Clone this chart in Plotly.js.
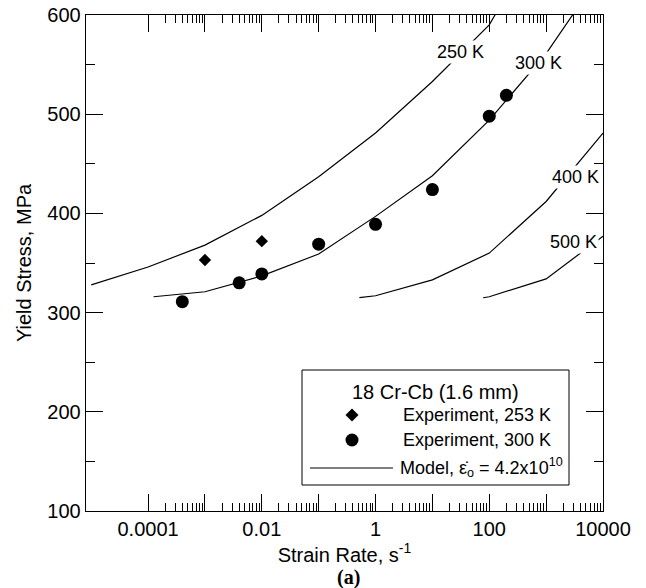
<!DOCTYPE html>
<html>
<head>
<meta charset="utf-8">
<script src="https://cdn.plot.ly/plotly-3.0.1.min.js"></script>
<style>html,body{margin:0;padding:0;background:#fff;}#chart{width:646px;height:588px;}</style>
</head>
<body>
<div id="chart"></div>
<script>
// ---- data ----
const rate250 = [1e-5, 1e-4, 1e-3, 1e-2, 1e-1, 1, 10, 100, 1000];
const stress250 = [328, 346, 368, 398, 437, 481, 533, 590, 690];

const rate300 = [1.25e-4, 1e-3, 1e-2, 1e-1, 1, 10, 100, 1000, 1e4];
const stress300 = [316, 321, 337, 359, 397, 438, 494, 561, 645];

const rate400 = [0.52, 1, 10, 100, 1000, 1e4];
const stress400 = [315, 317, 333, 360, 412, 481];

const rate500 = [78, 100, 1000, 1e4];
const stress500 = [315, 316, 334, 377];

const expRate253 = [1e-3, 1e-2];
const expStress253 = [353, 372];

const expRate300 = [4e-4, 4e-3, 1e-2, 1e-1, 1, 10, 100, 200];
const expStress300 = [311, 330, 339, 369, 389, 424, 498, 519];

const curveLabels = ['250 K', '300 K', '400 K', '500 K'];
const legendTitle = '18 Cr-Cb (1.6 mm)';
const legendItems = ['Experiment, 253 K', 'Experiment, 300 K', 'Model, ε\u0307<sub>o</sub> = 4.2x10<sup>10</sup>'];
const xTickVals = [1e-4, 1e-3, 1e-2, 1e-1, 1, 10, 100, 1000, 1e4];
const xTickText = ['0.0001', '', '0.01', '', '1', '', '100', '', '10000'];

// ---- layout helpers (pixel -> paper) ----
const L = 86, R = 603, T = 15, B = 511;
const px = x => (x - L) / (R - L);
const py = y => (B - y) / (B - T);

const minorX = [];
for (let e = -4; e < 4; e++) for (let d = 2; d <= 9; d++) minorX.push(d * Math.pow(10, e));

const lineStyle = {color: '#000', width: 1.2};
const traces = [
  {x: rate250, y: stress250, mode: 'lines', line: lineStyle, name: 'Model 250 K'},
  {x: rate300, y: stress300, mode: 'lines', line: lineStyle, name: 'Model 300 K'},
  {x: rate400, y: stress400, mode: 'lines', line: lineStyle, name: 'Model 400 K'},
  {x: rate500, y: stress500, mode: 'lines', line: lineStyle, name: 'Model 500 K'},
  {x: expRate253, y: expStress253, mode: 'markers', name: 'Experiment, 253 K',
   marker: {symbol: 'diamond', size: 9.5, color: '#000'}},
  {x: expRate300, y: expStress300, mode: 'markers', name: 'Experiment, 300 K',
   marker: {symbol: 'circle', size: 13, color: '#000'}}
];

const fontMain = 'Liberation Sans, Arial, sans-serif';

const labelPos = [[460, 52], [538, 63], [575, 177], [573, 242]];
const annotations = curveLabels.map((t, i) => ({
  text: t, xref: 'paper', yref: 'paper', x: px(labelPos[i][0]), y: py(labelPos[i][1]),
  xanchor: 'center', yanchor: 'middle', showarrow: false, bgcolor: '#fff', borderpad: 1,
  font: {family: fontMain, size: 18, color: '#000'}
}));
annotations.push(
  {text: legendTitle, xref: 'paper', yref: 'paper', x: px(435), y: py(392), xanchor: 'center', yanchor: 'middle',
   showarrow: false, font: {family: fontMain, size: 20, color: '#000'}},
  {text: legendItems[0], xref: 'paper', yref: 'paper', x: px(401), y: py(415), xanchor: 'left', yanchor: 'middle',
   showarrow: false, font: {family: fontMain, size: 18, color: '#000'}},
  {text: legendItems[1], xref: 'paper', yref: 'paper', x: px(401), y: py(440), xanchor: 'left', yanchor: 'middle',
   showarrow: false, font: {family: fontMain, size: 18, color: '#000'}},
  {text: legendItems[2], xref: 'paper', yref: 'paper', x: px(398), y: py(467), xanchor: 'left', yanchor: 'middle',
   showarrow: false, font: {family: fontMain, size: 18, color: '#000'}},
  {text: '<b>(a)</b>', xref: 'paper', yref: 'paper', x: px(348), y: py(577), xanchor: 'center', yanchor: 'middle',
   showarrow: false, font: {family: 'Liberation Serif, Times New Roman, serif', size: 20, color: '#000'}}
);

const dcx = 352, dcy = 415, dh = 6.5;
const shapes = [
  {type: 'rect', xref: 'paper', yref: 'paper', x0: px(302), x1: px(569), y0: py(485), y1: py(370),
   line: {color: '#000', width: 1}},
  {type: 'line', xref: 'paper', yref: 'paper', x0: px(310), x1: px(393), y0: py(468), y1: py(468),
   line: {color: '#000', width: 1.2}},
  {type: 'path', xref: 'paper', yref: 'paper',
   path: `M ${px(dcx)},${py(dcy - dh)} L ${px(dcx + dh)},${py(dcy)} L ${px(dcx)},${py(dcy + dh)} L ${px(dcx - dh)},${py(dcy)} Z`,
   fillcolor: '#000', line: {color: '#000', width: 0}},
  {type: 'circle', xref: 'paper', yref: 'paper', x0: px(345.5), x1: px(358.5), y0: py(446.5), y1: py(433.5),
   fillcolor: '#000', line: {color: '#000', width: 0}}
];

const layout = {
  width: 646, height: 588,
  margin: {l: L, r: 646 - R, t: T, b: 588 - B},
  showlegend: false,
  xaxis: {
    type: 'log', range: [Math.log10(8.1e-6), 4],
    tickmode: 'array', tickvals: xTickVals, ticktext: xTickText,
    ticks: 'inside', ticklen: 17, tickwidth: 1, tickcolor: '#000',
    minor: {tickmode: 'array', tickvals: minorX, ticks: 'inside', ticklen: 8, tickwidth: 1, tickcolor: '#000'},
    showline: true, linecolor: '#000', linewidth: 1.3, mirror: 'allticks',
    showgrid: false, zeroline: false,
    tickfont: {family: fontMain, size: 20, color: '#000'},
    title: {text: 'Strain Rate, s<sup>-1</sup>', font: {family: fontMain, size: 20, color: '#000'}, standoff: 0}
  },
  yaxis: {
    range: [100, 600], tickmode: 'linear', tick0: 100, dtick: 100,
    ticks: 'inside', ticklen: 17, tickwidth: 1, tickcolor: '#000',
    minor: {dtick: 50, ticks: 'inside', ticklen: 9, tickwidth: 1, tickcolor: '#000'},
    showline: true, linecolor: '#000', linewidth: 1.3, mirror: 'allticks',
    showgrid: false, zeroline: false,
    tickfont: {family: fontMain, size: 20, color: '#000'},
    title: {text: 'Yield Stress, MPa', font: {family: fontMain, size: 20, color: '#000'}, standoff: 10}
  },
  annotations: annotations,
  shapes: shapes
};

Plotly.newPlot('chart', traces, layout, {displayModeBar: false, staticPlot: true});
</script>
</body>
</html>
